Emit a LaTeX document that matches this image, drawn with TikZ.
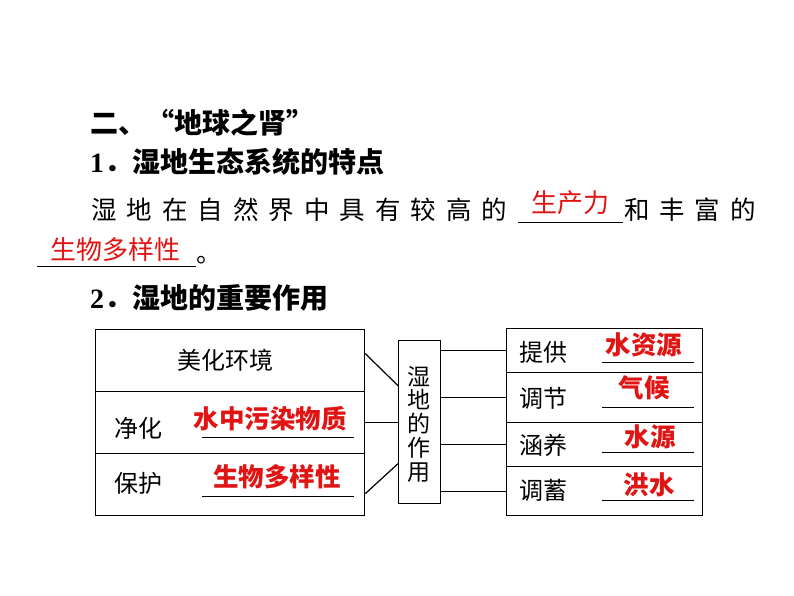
\documentclass[tikz,border=0pt]{standalone}
\usepackage{fontspec}
\setmainfont{Liberation Serif}
\newfontfamily\cjk{Noto Sans CJK SC}
\usetikzlibrary{calc}
\definecolor{ansred}{RGB}{225,20,20}
\begin{document}
\begin{tikzpicture}[x=1pt,y=-1pt,
  box/.style={draw, line width=1.3pt, anchor=north west, inner sep=0pt},
  lbl/.style={font=\cjk\fontsize{24}{24}\selectfont, inner sep=0pt},
  ans/.style={font=\cjk\bfseries\fontsize{25.5}{25.5}\selectfont, text=ansred, inner sep=0pt},
  ansl/.style={font=\cjk\fontsize{26}{26}\selectfont, text=ansred, inner sep=0pt},
  body/.style={font=\cjk\fontsize{25.5}{25.5}\selectfont, inner sep=0pt},
  head/.style={font=\cjk\bfseries\fontsize{28}{28}\selectfont, inner sep=0pt, anchor=west},
  conn/.style={line width=1.2pt},
  uline/.style={line width=0.9pt}]
\useasboundingbox[fill=white] (0,0) rectangle (794,596);

% heading text
\node[head] (h1) at (90,123) {二、“地球之肾”};
\node[head] (h2) at (90,162) {{\rmfamily 1}．湿地生态系统的特点};
\foreach \c [count=\i] in {湿,地,在,自,然,界,中,具,有,较,高,的}
  \node[body] (p\i) at (104+35.5*\i-35.5,210) {\c};
\foreach \c [count=\i] in {和,丰,富,的}
  \node[body] (q\i) at (637+35.3*\i-35.3,210) {\c};
\node[ansl] (a0) at (570,203) {生产力};
\draw[uline] (518,222) -- (623,222);
\node[ansl] (a00) at (115,250) {生物多样性};
\draw[uline] (37,266) -- (196,266);
\node[body, anchor=base west] (dot) at (196,262) {。};
\node[head] (h3) at (90,298) {{\rmfamily 2}．湿地的重要作用};

% left box
\node[box, minimum width=269pt, minimum height=62pt] (l1) at (95,329) {};
\node[box, minimum width=269pt, minimum height=62pt] (l2) at (95,391) {};
\node[box, minimum width=269pt, minimum height=62pt] (l3) at (95,453) {};
\node[lbl] (t1) at (225,360) {美化环境};
\node[lbl] (t2) at (138,428) {净化};
\node[ans] (a2) at (270,419) {水中污染物质};
\draw[uline] (202,437) -- (354,437);
\node[lbl] (t3) at (138,483) {保护};
\node[ans] (a3) at (277,477) {生物多样性};
\draw[uline] (202,496) -- (354,496);

% centre box
\node[box, minimum width=42pt, minimum height=163pt] (mid) at (398,340) {};
\node[lbl, align=center, font=\cjk\fontsize{23}{23.75}\selectfont] (midt) at (419,424) {湿\\地\\的\\作\\用};

% right box
\node[box, minimum width=196pt, minimum height=44pt] (r1) at (506,328) {};
\node[box, minimum width=196pt, minimum height=50pt] (r2) at (506,372) {};
\node[box, minimum width=196pt, minimum height=44pt] (r3) at (506,422) {};
\node[box, minimum width=196pt, minimum height=49pt] (r4) at (506,466) {};
\node[lbl] (s1) at (543,352) {提供};
\node[lbl] (s2) at (543,398) {调节};
\node[lbl] (s3) at (543,445) {涵养};
\node[lbl] (s4) at (543,490) {调蓄};
\node[ans] (b1) at (644,345) {水资源};
\node[ans] (b2) at (644,388) {气候};
\node[ans] (b3) at (650,437) {水源};
\node[ans] (b4) at (649,485) {洪水};
\draw[uline] (602,362) -- (694,362);
\draw[uline] (602,407) -- (694,407);
\draw[uline] (602,452) -- (694,452);
\draw[uline] (602,500) -- (694,500);

% connectors
\draw[conn] ([yshift=7pt]l1.east) -- ([yshift=36.5pt]mid.west);
\draw[conn] (l2.east) -- (l2.east -| mid.west);
\draw[conn] ([yshift=-9pt]l3.east) -- ([yshift=-41.5pt]mid.west);
\draw[conn] (mid.east |- r1.west) -- (r1.west);
\draw[conn] (mid.east |- r2.west) -- (r2.west);
\draw[conn] (mid.east |- r3.west) -- (r3.west);
\draw[conn] (mid.east |- r4.west) -- (r4.west);
\end{tikzpicture}
\end{document}
